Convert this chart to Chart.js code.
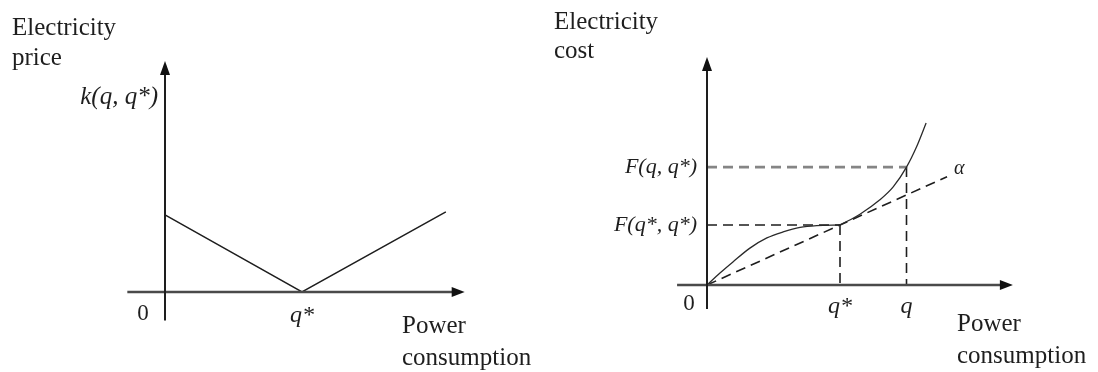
<!DOCTYPE html>
<html>
<head>
<meta charset="utf-8">
<script src="https://cdn.jsdelivr.net/npm/chart.js@4.4.0/dist/chart.umd.min.js"></script>
<style>
  html, body { margin: 0; padding: 0; background: #fff; }
  #wrap { position: relative; width: 1098px; height: 372px; overflow: hidden; }
  canvas { position: absolute; top: 0; }
  #priceChart { left: 0; }
  #costChart { left: 549px; }
</style>
</head>
<body>
<div id="wrap">
  <canvas id="priceChart" width="549" height="372"></canvas>
  <canvas id="costChart" width="549" height="372"></canvas>
</div>
<script>
// price curve k(q, q*): falls to zero at q*, rises again after it
const priceX = [0, 4, 8.2];
const priceY = [2.57, 0, 2.67];
const priceXAxis = [-1.1, 8.75];
const priceYAxis = [-0.95, 7.7];
const priceTickValues = [4];
const priceTickLabels = ["q*"];

// cost curve F(q, q*)
const qStar = 4;
const qVal = 6;
const FStar = 2;
const Fq = 3.93;
const costLeftX = [0, 0.39, 0.78, 1.29, 1.8, 2.29, 2.8, 3.3, 4];
const costLeftY = [0, 0.4, 0.77, 1.23, 1.57, 1.77, 1.92, 1.98, 2];
const costRightX = [4, 4.6, 5.2, 5.6, 6, 6.3, 6.59];
const costRightY = [2, 2.36, 2.84, 3.27, 3.93, 4.6, 5.4];
const alphaX = [0, 7.22];
const alphaY = [0, 3.61];
const costXAxis = [-0.9, 9.2];
const costYAxis = [-0.8, 7.6];
const costTickValues = [qStar, qVal];
const costTickLabels = ["q*", "q"];
const costLevelValues = [Fq, FStar];
const costLevelLabels = ["F(q, q*)", "F(q*, q*)"];

const SERIF = "'Liberation Serif', 'Times New Roman', serif";
const INK = "#1e1e1e";

function pts(xs, ys) {
  return xs.map((x, i) => ({ x: x, y: ys[i] }));
}

function text(ctx, str, x, y, font, align) {
  ctx.font = font;
  ctx.textAlign = align || "left";
  ctx.textBaseline = "alphabetic";
  ctx.fillStyle = INK;
  ctx.fillText(str, x, y);
}

// axes with arrow heads, drawn through the chart's own scales
function axesPlugin(xAxis, yAxis) {
  return {
    id: "arrowAxes",
    afterDatasetsDraw(chart) {
      const ctx = chart.ctx;
      const xs = chart.scales.x;
      const ys = chart.scales.y;
      const x0 = xs.getPixelForValue(0);
      const y0 = ys.getPixelForValue(0);
      const xa = xs.getPixelForValue(xAxis[0]);
      const xb = xs.getPixelForValue(xAxis[1]);
      const ya = ys.getPixelForValue(yAxis[0]);
      const yb = ys.getPixelForValue(yAxis[1]);
      ctx.save();
      ctx.lineCap = "butt";

      ctx.strokeStyle = "#4a4a4a";
      ctx.lineWidth = 2.5;
      ctx.beginPath();
      ctx.moveTo(xa, y0);
      ctx.lineTo(xb - 8, y0);
      ctx.stroke();

      ctx.strokeStyle = INK;
      ctx.lineWidth = 2;
      ctx.beginPath();
      ctx.moveTo(x0, ya);
      ctx.lineTo(x0, yb + 8);
      ctx.stroke();

      ctx.fillStyle = "#111";
      ctx.beginPath();
      ctx.moveTo(xb, y0);
      ctx.lineTo(xb - 13, y0 - 5);
      ctx.lineTo(xb - 13, y0 + 5);
      ctx.closePath();
      ctx.fill();
      ctx.beginPath();
      ctx.moveTo(x0, yb);
      ctx.lineTo(x0 - 5, yb + 14);
      ctx.lineTo(x0 + 5, yb + 14);
      ctx.closePath();
      ctx.fill();
      ctx.restore();
    }
  };
}

function baseOptions(xmin, xmax, ymin, ymax, pad) {
  return {
    responsive: false,
    animation: false,
    events: [],
    layout: { padding: pad },
    plugins: { legend: { display: false }, tooltip: { enabled: false } },
    scales: {
      x: { type: "linear", min: xmin, max: xmax, display: false },
      y: { type: "linear", min: ymin, max: ymax, display: false }
    },
    elements: { point: { radius: 0 } }
  };
}

// ---- left chart: electricity price ----
const priceLabels = {
  id: "priceLabels",
  afterDraw(chart) {
    const ctx = chart.ctx;
    const xs = chart.scales.x;
    const ys = chart.scales.y;
    const x0 = xs.getPixelForValue(0);
    const y0 = ys.getPixelForValue(0);
    text(ctx, "Electricity", 12, 35, "25px " + SERIF);
    text(ctx, "price", 12, 65, "25px " + SERIF);
    text(ctx, "Power", 402, 333, "25px " + SERIF);
    text(ctx, "consumption", 402, 365, "25px " + SERIF);
    text(ctx, "k(q, q*)", x0 - 7, ys.getPixelForValue(priceYAxis[1]) + 43, "italic 25px " + SERIF, "right");
    text(ctx, "0", x0 - 22, y0 + 28, "23px " + SERIF, "center");
    priceTickValues.forEach((v, i) => {
      text(ctx, priceTickLabels[i], xs.getPixelForValue(v), y0 + 30, "italic 24px " + SERIF, "center");
    });
  }
};

new Chart(document.getElementById("priceChart"), {
  type: "scatter",
  data: {
    datasets: [{
      data: pts(priceX, priceY),
      showLine: true,
      borderColor: INK,
      borderWidth: 1.5,
      pointRadius: 0
    }]
  },
  options: baseOptions(-3, 11, -2, 9, { left: 62.25, right: 7.25, top: 22, bottom: 20 }),
  plugins: [axesPlugin(priceXAxis, priceYAxis), priceLabels]
});

// ---- right chart: electricity cost ----
const costLabels = {
  id: "costLabels",
  afterDraw(chart) {
    const ctx = chart.ctx;
    const xs = chart.scales.x;
    const ys = chart.scales.y;
    const x0 = xs.getPixelForValue(0);
    const y0 = ys.getPixelForValue(0);
    text(ctx, "Electricity", 5, 29, "25px " + SERIF);
    text(ctx, "cost", 5, 58, "25px " + SERIF);
    text(ctx, "Power", 408, 331, "25px " + SERIF);
    text(ctx, "consumption", 408, 363, "25px " + SERIF);
    text(ctx, "0", x0 - 18, y0 + 25, "23px " + SERIF, "center");
    costTickValues.forEach((v, i) => {
      text(ctx, costTickLabels[i], xs.getPixelForValue(v), y0 + 28, "italic 24px " + SERIF, "center");
    });
    costLevelValues.forEach((v, i) => {
      text(ctx, costLevelLabels[i], x0 - 10, ys.getPixelForValue(v) + 6, "italic 22px " + SERIF, "right");
    });
    const ax = alphaX[alphaX.length - 1];
    const ay = alphaY[alphaY.length - 1];
    text(ctx, "α", xs.getPixelForValue(ax) + 7, ys.getPixelForValue(ay) - 3, "italic 20px " + SERIF);
  }
};

const dashLine = (data, color, width) => ({
  data: data,
  showLine: true,
  borderColor: color,
  borderWidth: width,
  borderDash: [10, 6],
  pointRadius: 0
});

const solidCurve = (data) => ({
  data: data,
  showLine: true,
  borderColor: "#2a2a2a",
  borderWidth: 1.3,
  cubicInterpolationMode: "monotone",
  pointRadius: 0
});

new Chart(document.getElementById("costChart"), {
  type: "scatter",
  data: {
    datasets: [
      solidCurve(pts(costLeftX, costLeftY)),
      solidCurve(pts(costRightX, costRightY)),
      dashLine(pts(alphaX, alphaY), INK, 1.6),
      dashLine([{ x: 0, y: Fq }, { x: qVal, y: Fq }], "#858585", 2.6),
      dashLine([{ x: 0, y: FStar }, { x: qStar, y: FStar }], INK, 1.6),
      dashLine([{ x: qStar, y: FStar }, { x: qStar, y: 0 }], INK, 1.6),
      dashLine([{ x: qVal, y: Fq }, { x: qVal, y: 0 }], INK, 1.6)
    ]
  },
  options: baseOptions(-3, 11, -2, 9, { left: 58.25, right: 25.25, top: 15, bottom: 27 }),
  plugins: [axesPlugin(costXAxis, costYAxis), costLabels]
});
</script>
</body>
</html>
